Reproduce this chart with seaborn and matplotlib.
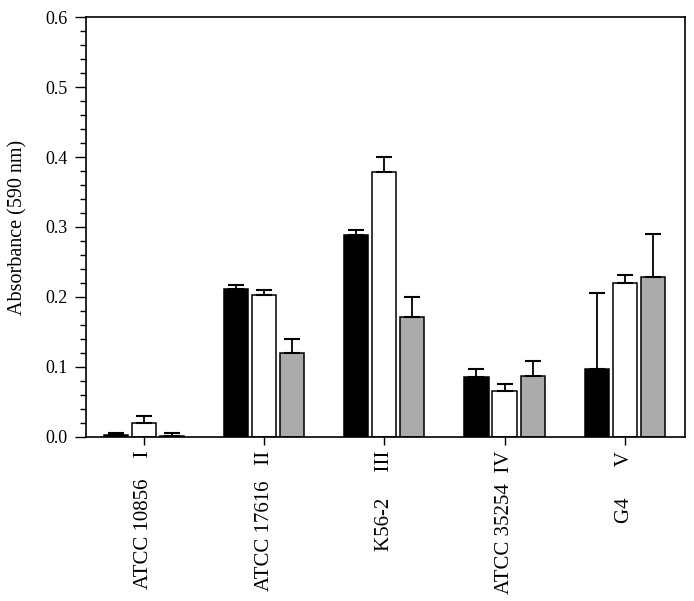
import numpy as np
import pandas as pd
import matplotlib
matplotlib.use("Agg")
import matplotlib.pyplot as plt
import seaborn as sns
from matplotlib.ticker import MultipleLocator, FormatStrFormatter

# strains and their group numerals
strains = ["ATCC 10856", "ATCC 17616", "K56-2", "ATCC 35254", "G4"]
numerals = ["I", "II", "III", "IV", "V"]
label_gaps = [4, 3, 5, 2, 6]

series = ["black", "white", "grey"]
mean_black = [0.003, 0.212, 0.288, 0.085, 0.097]
mean_white = [0.020, 0.203, 0.378, 0.066, 0.220]
mean_grey = [0.002, 0.120, 0.171, 0.087, 0.229]
err_black = [0.003, 0.005, 0.007, 0.012, 0.108]
err_white = [0.010, 0.007, 0.022, 0.009, 0.011]
err_grey = [0.004, 0.020, 0.029, 0.021, 0.061]

colors = {"black": "#000000", "white": "#ffffff", "grey": "#ababab"}

sns.set_style("ticks", {"text.color": "black", "axes.labelcolor": "black",
                        "xtick.color": "black", "ytick.color": "black",
                        "axes.edgecolor": "black"})
plt.rcParams["font.family"] = ["Liberation Serif", "DejaVu Serif"]

df = pd.DataFrame({
    "strain": strains * 3,
    "series": np.repeat(series, len(strains)),
    "value": mean_black + mean_white + mean_grey,
})
errs = [err_black, err_white, err_grey]

fig = plt.figure(figsize=(6.94, 6.01), dpi=100)
ax = fig.add_axes([0.1239, 0.2729, 0.987 - 0.1239, 0.9717 - 0.2729])

sns.barplot(data=df, x="strain", y="value", hue="series", order=strains,
            hue_order=series, palette=colors, width=0.7, gap=0.14,
            edgecolor="black", linewidth=1.1, errorbar=None, legend=False, ax=ax)

for cont, e in zip(ax.containers, errs):
    xs = [b.get_x() + b.get_width() / 2 for b in cont]
    hs = [b.get_height() for b in cont]
    ax.errorbar(xs, hs, yerr=[np.zeros(len(e)), e], fmt="none", ecolor="black",
                elinewidth=1.3, capsize=6, capthick=1.5, zorder=3)

ax.set_xlim(-0.48, 4.5)
ax.set_ylim(0, 0.6)
ax.yaxis.set_major_locator(MultipleLocator(0.1))
ax.yaxis.set_minor_locator(MultipleLocator(0.02))
ax.yaxis.set_major_formatter(FormatStrFormatter("%.1f"))
ax.tick_params(axis="y", which="major", direction="out", length=8, width=1,
               labelsize=13, pad=5)
ax.tick_params(axis="y", which="minor", direction="out", length=4, width=1)
ax.tick_params(axis="x", direction="out", length=6, width=1, pad=4)

labels = [f"{s}{' ' * g}{n}" for s, n, g in zip(strains, numerals, label_gaps)]
ax.set_xticks(range(len(strains)))
ax.set_xticklabels(labels, rotation=90, fontsize=15, va="top", ha="center")

for sp in ax.spines.values():
    sp.set_visible(True)
    sp.set_linewidth(1.2)
    sp.set_color("black")

ax.set_xlabel("")
ax.set_ylabel("Absorbance (590 nm)", fontsize=14.5, labelpad=13)

fig.savefig("out.png", dpi=100)
